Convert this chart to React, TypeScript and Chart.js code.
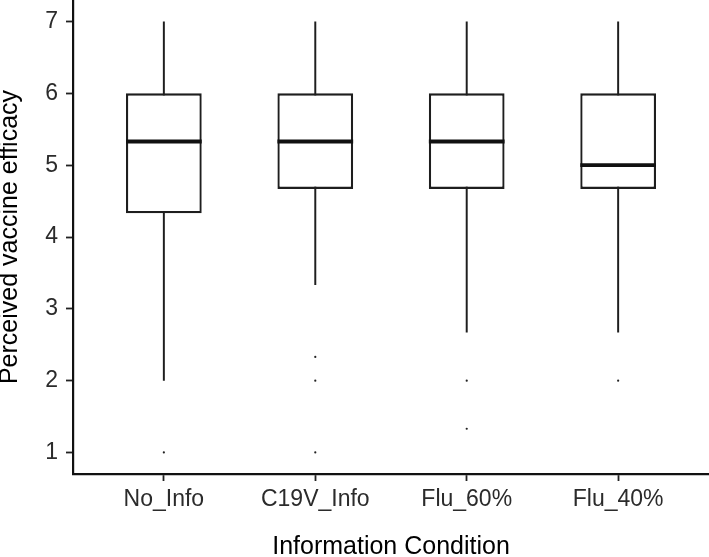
import React, { useEffect, useRef } from "react";
import { Chart, registerables } from "chart.js";

Chart.register(...registerables);

const categories = ["No_Info", "C19V_Info", "Flu_60%", "Flu_40%"];
const whiskerLow = [2, 3.33, 2.67, 2.67];
const q1 = [4.33, 4.67, 4.67, 4.67];
const median = [5.33, 5.33, 5.33, 5.0];
const q3 = [6, 6, 6, 6];
const whiskerHigh = [7, 7, 7, 7];
const outlierGroup = [1, 2, 2, 2, 3, 3, 4];
const outlierValue = [1, 2.33, 2, 1, 2, 1.33, 2];
const yTickValues = [1, 2, 3, 4, 5, 6, 7];

const BOX_UNITS = 0.5;
const FONT = "'Liberation Sans', Arial, Helvetica, sans-serif";

export default function App() {
  const ref = useRef<HTMLCanvasElement | null>(null);

  useEffect(() => {
    const canvas = ref.current;
    if (!canvas) return;

    const medianRadius = (ctx: any) => {
      const xs = ctx.chart.scales.x;
      if (!xs) return 38;
      return Math.abs(xs.getPixelForValue(1 + BOX_UNITS / 2) - xs.getPixelForValue(1));
    };

    const chart = new Chart(canvas, {
      type: "bar",
      data: {
        datasets: [
          {
            type: "scatter",
            label: "outliers",
            data: outlierGroup.map((g, i) => ({ x: g, y: outlierValue[i] })),
            pointRadius: 1.1,
            pointBorderWidth: 0,
            pointBackgroundColor: "#222",
            pointBorderColor: "#222",
            order: 0,
          } as any,
          {
            type: "scatter",
            label: "median",
            data: median.map((m, i) => ({ x: i + 1, y: m })),
            pointStyle: "line",
            pointRadius: medianRadius,
            pointBorderWidth: 3.8,
            pointBorderColor: "#111",
            pointBackgroundColor: "#111",
            order: 1,
          } as any,
          {
            type: "bar",
            label: "box",
            data: q1.map((v, i) => ({ x: i + 1, y: [v, q3[i]] })),
            backgroundColor: "#ffffff",
            borderColor: "#1e1e1e",
            borderWidth: 2.3,
            borderSkipped: false,
            grouped: false,
            barPercentage: BOX_UNITS,
            categoryPercentage: 1,
            order: 2,
          } as any,
          {
            type: "bar",
            label: "whisker",
            data: whiskerLow.map((v, i) => ({ x: i + 1, y: [v, whiskerHigh[i]] })),
            backgroundColor: "#1e1e1e",
            borderWidth: 0,
            grouped: false,
            barPercentage: 0.013,
            categoryPercentage: 1,
            order: 3,
          } as any,
        ],
      },
      options: {
        animation: false,
        responsive: true,
        maintainAspectRatio: false,
        layout: { autoPadding: false, padding: 0 },
        plugins: {
          legend: { display: false },
          tooltip: { enabled: false },
        },
        scales: {
          x: {
            type: "linear",
            min: 0.4,
            max: 4.6,
            offset: false,
            afterBuildTicks: (scale: any) => {
              scale.ticks = categories.map((_, i) => ({ value: i + 1 }));
            },
            afterFit: (scale: any) => {
              scale.height = 83;
              scale.paddingLeft = 0;
              scale.paddingRight = 0;
            },
            ticks: {
              callback: (v: any) => categories[Math.round(Number(v)) - 1] ?? "",
              color: "#2b2b2b",
              font: { family: FONT, size: 23 },
              padding: 5,
              maxRotation: 0,
              autoSkip: false,
            },
            grid: {
              display: true,
              offset: false,
              drawOnChartArea: false,
              drawTicks: true,
              tickLength: 7,
              tickColor: "#222",
              tickWidth: 1.8,
            },
            border: { display: true, color: "#111", width: 2.2 },
            title: {
              display: true,
              text: "Information Condition",
              color: "#000",
              font: { family: FONT, size: 25, lineHeight: 0.8 },
              padding: 0,
            },
          },
          y: {
            type: "linear",
            min: 0.7,
            max: 7.3,
            afterBuildTicks: (scale: any) => {
              scale.ticks = yTickValues.map((v) => ({ value: v }));
            },
            afterFit: (scale: any) => {
              scale.width = 73;
              scale.paddingTop = 0;
              scale.paddingBottom = 0;
            },
            ticks: {
              color: "#2b2b2b",
              font: { family: FONT, size: 23 },
              padding: 8,
            },
            grid: {
              display: true,
              drawOnChartArea: false,
              drawTicks: true,
              tickLength: 7,
              tickColor: "#222",
              tickWidth: 1.8,
            },
            border: { display: true, color: "#111", width: 2.2 },
            title: {
              display: true,
              text: "Perceived vaccine efficacy",
              color: "#000",
              font: { family: FONT, size: 25, lineHeight: 0.8 },
              padding: 0,
            },
          },
        },
      } as any,
    });

    return () => chart.destroy();
  }, []);

  return (
    <div
      style={{
        position: "absolute",
        left: 0,
        top: 0,
        width: 709,
        height: 557,
        background: "#ffffff",
      }}
    >
      <canvas ref={ref} />
    </div>
  );
}
